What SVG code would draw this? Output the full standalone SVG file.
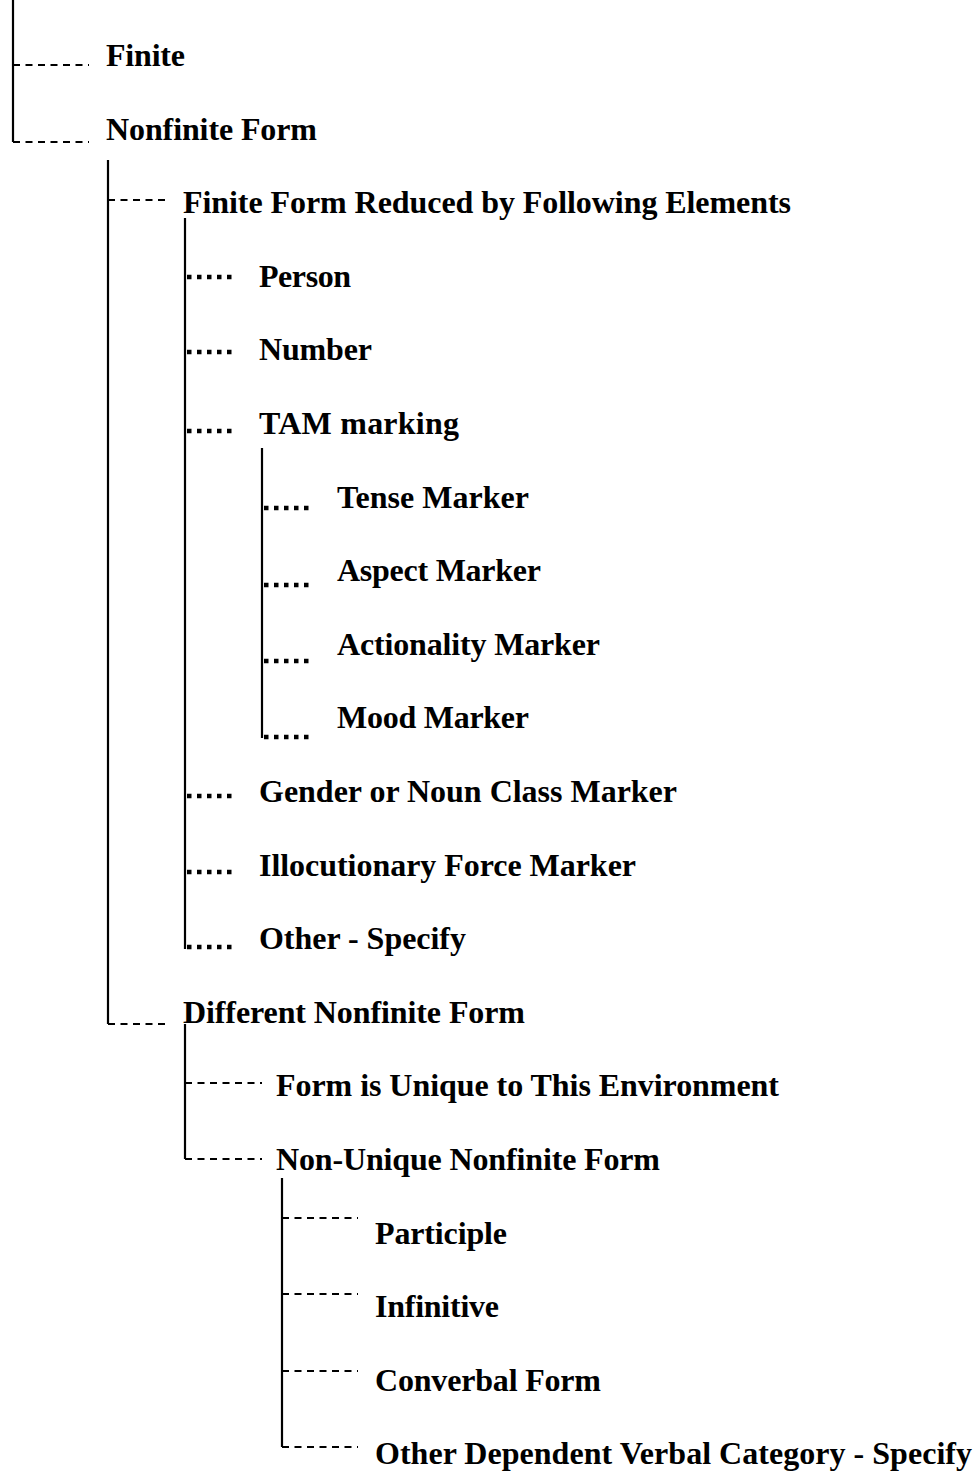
<svg xmlns="http://www.w3.org/2000/svg" width="977" height="1472" viewBox="0 0 977 1472">
  <style>
    .label { font-family: "Liberation Serif", "Times New Roman", serif; font-weight: bold; font-size: 32px; fill: #000; }
    .trunk { stroke: #000; stroke-width: 2.2; fill: none; }
    .dash { stroke: #000; stroke-width: 2; stroke-dasharray: 7 5.5; fill: none; }
    .dots { stroke: #000; stroke-width: 4.5; stroke-dasharray: 4.5 5.5; fill: none; }
  </style>
  <rect width="977" height="1472" fill="#fff"/>

  <!-- tree connectors -->
  <g id="connectors">
    <!-- root -->
    <path class="trunk" d="M13 0 V142"/>
    <path class="dash" d="M13 65 H89 M13 142 H89"/>
    <!-- Nonfinite Form -->
    <path class="trunk" d="M108 160 V1024"/>
    <path class="dash" d="M108 200 H167 M108 1024 H167"/>
    <!-- Finite Form Reduced by Following Elements -->
    <path class="trunk" d="M185 218 V949"/>
    <path class="dots" d="M187 277 H237 M187 352 H237 M187 431 H237 M187 796 H237 M187 872 H237 M187 947 H237"/>
    <!-- TAM marking -->
    <path class="trunk" d="M262 448 V738"/>
    <path class="dots" d="M264 508 H314 M264 585 H314 M264 661 H314 M264 737 H314"/>
    <!-- Different Nonfinite Form -->
    <path class="trunk" d="M185 1024 V1159"/>
    <path class="dash" d="M185 1083 H262 M185 1159 H262"/>
    <!-- Non-Unique Nonfinite Form -->
    <path class="trunk" d="M282 1178 V1447"/>
    <path class="dash" d="M282 1218 H358 M282 1294 H358 M282 1371 H358 M282 1447 H358"/>
  </g>

  <g id="n-finite"><text class="label" x="106" y="66" textLength="79" lengthAdjust="spacing">Finite</text></g>
  <g id="n-nonfinite"><text class="label" x="106" y="140" textLength="211" lengthAdjust="spacing">Nonfinite Form</text></g>
  <g id="n-reduced"><text class="label" x="183" y="213" textLength="608" lengthAdjust="spacing">Finite Form Reduced by Following Elements</text></g>
  <g id="n-person"><text class="label" x="259" y="287" textLength="92" lengthAdjust="spacing">Person</text></g>
  <g id="n-number"><text class="label" x="259" y="360" textLength="113" lengthAdjust="spacing">Number</text></g>
  <g id="n-tam"><text class="label" x="259" y="434" textLength="200" lengthAdjust="spacing">TAM marking</text></g>
  <g id="n-tense"><text class="label" x="337" y="508" textLength="192" lengthAdjust="spacing">Tense Marker</text></g>
  <g id="n-aspect"><text class="label" x="337" y="581" textLength="204" lengthAdjust="spacing">Aspect Marker</text></g>
  <g id="n-actionality"><text class="label" x="337" y="655" textLength="263" lengthAdjust="spacing">Actionality Marker</text></g>
  <g id="n-mood"><text class="label" x="337" y="728" textLength="192" lengthAdjust="spacing">Mood Marker</text></g>
  <g id="n-gender"><text class="label" x="259" y="802" textLength="418" lengthAdjust="spacing">Gender or Noun Class Marker</text></g>
  <g id="n-illocutionary"><text class="label" x="259" y="876" textLength="377" lengthAdjust="spacing">Illocutionary Force Marker</text></g>
  <g id="n-other1"><text class="label" x="259" y="949" textLength="207" lengthAdjust="spacing">Other - Specify</text></g>
  <g id="n-different"><text class="label" x="183" y="1023" textLength="342" lengthAdjust="spacing">Different Nonfinite Form</text></g>
  <g id="n-unique"><text class="label" x="276" y="1096" textLength="503" lengthAdjust="spacing">Form is Unique to This Environment</text></g>
  <g id="n-nonunique"><text class="label" x="276" y="1170" textLength="384" lengthAdjust="spacing">Non-Unique Nonfinite Form</text></g>
  <g id="n-participle"><text class="label" x="375" y="1244" textLength="132" lengthAdjust="spacing">Participle</text></g>
  <g id="n-infinitive"><text class="label" x="375" y="1317" textLength="124" lengthAdjust="spacing">Infinitive</text></g>
  <g id="n-converbal"><text class="label" x="375" y="1391" textLength="226" lengthAdjust="spacing">Converbal Form</text></g>
  <g id="n-other2"><text class="label" x="375" y="1464" textLength="597" lengthAdjust="spacing">Other Dependent Verbal Category - Specify</text></g>
</svg>
